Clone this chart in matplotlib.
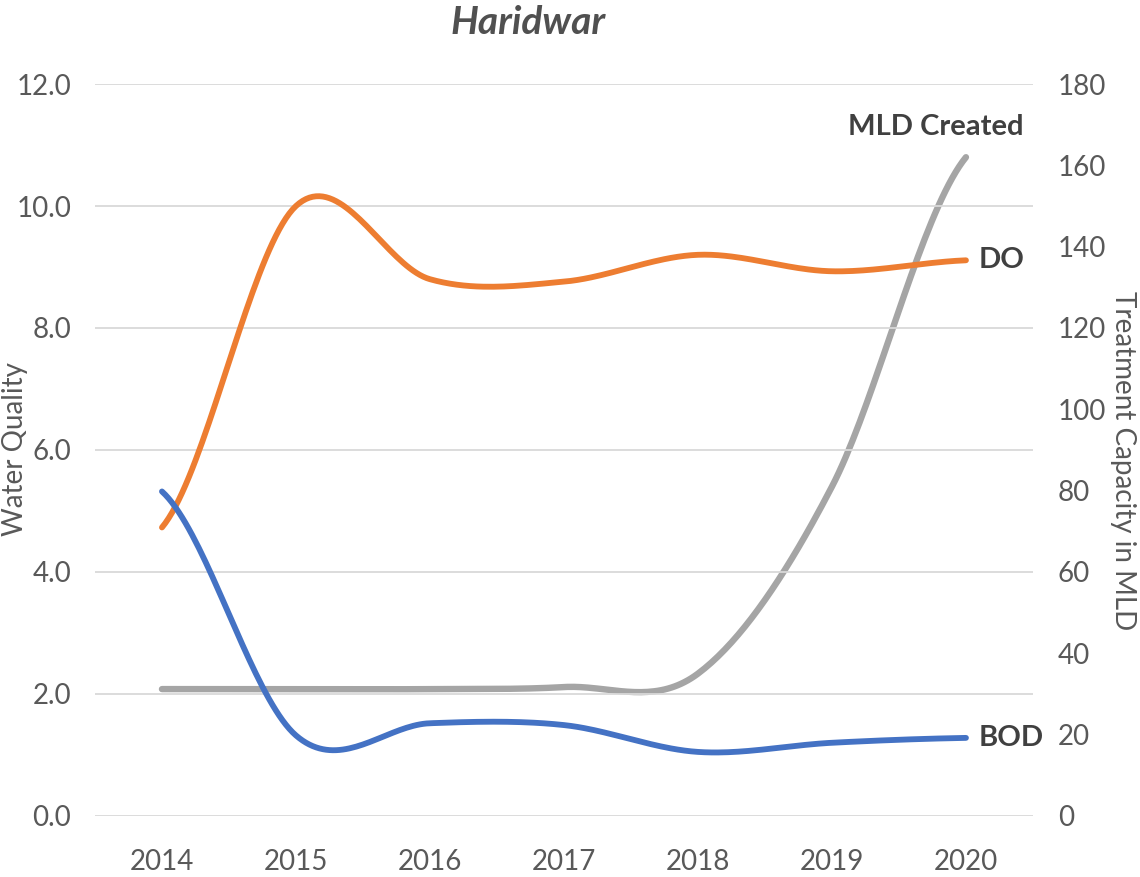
import numpy as np
import matplotlib
matplotlib.use("Agg")
import matplotlib.pyplot as plt

years = ["2014", "2015", "2016", "2017", "2018", "2019", "2020"]
do_vals = [4.73, 10.0, 8.8, 8.76, 9.2, 8.93, 9.11]
bod_vals = [5.32, 1.32, 1.52, 1.49, 1.05, 1.2, 1.28]
mld_vals = [31.2, 31.2, 31.2, 31.7, 35.0, 81.0, 162.0]

left_ticks = [0, 2, 4, 6, 8, 10, 12]
right_ticks = [0, 20, 40, 60, 80, 100, 120, 140, 160, 180]

plt.rcParams['font.family'] = ['Lato', 'DejaVu Sans']

TICK_COLOR = '#595959'
LABEL_COLOR = '#404040'


def smooth(y, n=40):
    # Excel-style smoothed line (Catmull-Rom through the points)
    y = np.asarray(y, dtype=float)
    xs, ys = [], []
    for i in range(len(y) - 1):
        p0, p1 = y[i], y[i + 1]
        prev = y[i - 1] if i > 0 else y[i]
        nxt = y[i + 2] if i + 2 < len(y) else y[i + 1]
        m0 = (p1 - prev) / 2
        m1 = (nxt - p0) / 2
        t = np.linspace(0, 1, n, endpoint=(i == len(y) - 2))
        h00 = 2 * t**3 - 3 * t**2 + 1
        h10 = t**3 - 2 * t**2 + t
        h01 = -2 * t**3 + 3 * t**2
        h11 = t**3 - t**2
        xs.append(i + t)
        ys.append(h00 * p0 + h10 * m0 + h01 * p1 + h11 * m1)
    return np.concatenate(xs), np.concatenate(ys)


fig = plt.figure(figsize=(11.4, 8.77), dpi=100)
ax = fig.add_axes([0.0833, 0.0696, 0.8228, 0.8346])
ax2 = ax.twinx()

x = np.arange(len(years))

# gray line on secondary axis (drawn below)
sx, sy = smooth(mld_vals)
ax2.plot(sx, sy, color='#A5A5A5', lw=4.6, solid_capstyle='round', zorder=2)

sx, sy = smooth(do_vals)
ax.plot(sx, sy, color='#ED7D31', lw=4.2, solid_capstyle='round', zorder=3)
sx, sy = smooth(bod_vals)
ax.plot(sx, sy, color='#4472C4', lw=4.2, solid_capstyle='round', zorder=3)

# put primary axis above the twin so orange/blue lie over gray
ax.set_zorder(ax2.get_zorder() + 1)
ax.patch.set_visible(False)

ax.set_xlim(-0.5, 6.5)
ax.set_ylim(0, 12)
ax2.set_ylim(0, 180)

ax.set_xticks(x)
ax.set_xticklabels(years)
ax.set_yticks(left_ticks)
ax.set_yticklabels([f"{v:.1f}" for v in left_ticks])
ax2.set_yticks(right_ticks)
ax2.set_yticklabels([str(v) for v in right_ticks])

ax.grid(axis='y', color='#D9D9D9', lw=1.3)
ax.set_axisbelow(True)

for a in (ax, ax2):
    for s in a.spines.values():
        s.set_visible(False)
ax.tick_params(axis='both', length=0, labelsize=20, colors=TICK_COLOR)
ax.tick_params(axis='y', pad=17)
ax.tick_params(axis='x', pad=24)
ax2.tick_params(axis='y', length=0, labelsize=20, colors=TICK_COLOR, pad=18)

fig.text(0.013, 0.488, "Water Quality", rotation=90, ha='center', va='center',
         fontsize=20, color=TICK_COLOR)
fig.text(0.985, 0.475, "Treatment Capacity in MLD", rotation=-90, ha='center',
         va='center', fontsize=20, color=TICK_COLOR)

fig.text(0.463, 0.974, "Haridwar", ha='center', va='center', fontsize=28,
         fontweight='bold', fontstyle='italic', color='#505050')

# series labels beside the line ends
ax.annotate("DO", (6, do_vals[-1]), xytext=(9, 0), textcoords='offset points',
            ha='left', va='center', fontsize=21, fontweight='bold', color=LABEL_COLOR)
ax.annotate("BOD", (6, bod_vals[-1]), xytext=(9, 0), textcoords='offset points',
            ha='left', va='center', fontsize=21, fontweight='bold', color=LABEL_COLOR)
ax2.annotate("MLD Created", (6, mld_vals[-1]), xytext=(-22, 22), textcoords='offset points',
             ha='center', va='center', fontsize=21, fontweight='bold', color=LABEL_COLOR)

fig.savefig("out.png", dpi=100)
